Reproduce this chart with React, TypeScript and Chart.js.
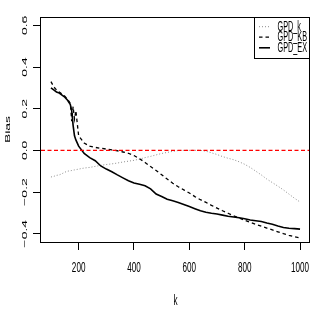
import React, { useEffect, useRef } from "react";
import { Chart, registerables } from "chart.js";

Chart.register(...registerables);

const kValues = [
  100, 110, 120, 130, 140, 150, 160, 170, 175, 180, 185, 190,
  200, 220, 240, 260, 280, 300, 320, 340, 360, 380, 400, 420, 440, 460, 480,
  500, 520, 540, 560, 580, 600, 620, 640, 660, 680, 700, 720, 740, 760, 780,
  800, 820, 840, 860, 880, 900, 920, 940, 960, 980, 1000,
];

const gpdK = [
  -0.128, -0.125, -0.12, -0.118, -0.112, -0.105, -0.1, -0.098, -0.097, -0.095, -0.094, -0.093,
  -0.09, -0.085, -0.082, -0.077, -0.072, -0.068, -0.065, -0.061, -0.056, -0.052, -0.048, -0.042, -0.035, -0.029, -0.022,
  -0.015, -0.01, -0.005, -0.001, 0.0, 0.0, 0.0, 0.0, -0.004, -0.012, -0.02, -0.03, -0.038, -0.045, -0.055,
  -0.067, -0.082, -0.1, -0.118, -0.138, -0.155, -0.172, -0.19, -0.21, -0.23, -0.248,
];

const gpdKB = [
  0.33, 0.305, 0.29, 0.28, 0.27, 0.26, 0.245, 0.225, 0.14, 0.21, 0.15, 0.19,
  0.07, 0.035, 0.02, 0.014, 0.01, 0.006, 0.002, -0.002, -0.008, -0.014, -0.025, -0.04, -0.058, -0.078, -0.097,
  -0.117, -0.138, -0.158, -0.175, -0.19, -0.205, -0.222, -0.237, -0.25, -0.264, -0.277, -0.29, -0.302, -0.314, -0.325,
  -0.336, -0.346, -0.355, -0.364, -0.373, -0.382, -0.391, -0.4, -0.408, -0.415, -0.42,
];

const gpdEX = [
  0.3, 0.29, 0.28, 0.275, 0.265, 0.255, 0.24, 0.22, 0.19, 0.12, 0.07, 0.05,
  0.02, -0.015, -0.035, -0.05, -0.075, -0.09, -0.103, -0.118, -0.132, -0.146, -0.157, -0.163, -0.17, -0.185, -0.21,
  -0.222, -0.235, -0.242, -0.25, -0.26, -0.27, -0.28, -0.29, -0.297, -0.302, -0.306, -0.311, -0.316, -0.32, -0.324,
  -0.328, -0.334, -0.338, -0.342, -0.349, -0.355, -0.363, -0.37, -0.374, -0.376, -0.378,
];

const xTicks = [200, 400, 600, 800, 1000];
const yTicks = [-0.4, -0.2, 0.0, 0.2, 0.4, 0.6];
const yTickLabels = ["\u22120.4", "\u22120.2", "0.0", "0.2", "0.4", "0.6"];
const legendLabels = ["GPD_k", "GPD_KB", "GPD_EX"];
const xTitle = "k";
const yTitle = "Bias";

const FONT = "14px 'Liberation Sans', Arial, Helvetica, sans-serif";
const SX = 0.58;

function drawText(ctx: CanvasRenderingContext2D, text: string, x: number, y: number, rot: number, align: CanvasTextAlign, sx: number = SX) {
  ctx.save();
  ctx.translate(x, y);
  ctx.scale(sx, 1);
  ctx.rotate(rot);
  ctx.font = FONT;
  ctx.fillStyle = "#000";
  ctx.textAlign = align;
  ctx.textBaseline = "middle";
  ctx.fillText(text, 0, 0);
  ctx.restore();
}

const rPlugin = {
  id: "rstyle",
  afterDatasetsDraw(chart: any) {
    const { ctx, chartArea: a, scales } = chart;
    const xs = scales.x;
    const ys = scales.y;
    // abline h = 0
    ctx.save();
    ctx.beginPath();
    ctx.rect(a.left, a.top, a.right - a.left, a.bottom - a.top);
    ctx.clip();
    ctx.strokeStyle = "#ff0000";
    ctx.lineWidth = 1.4;
    ctx.setLineDash([4, 2.5]);
    const py = ys.getPixelForValue(0);
    ctx.beginPath();
    ctx.moveTo(a.left, py);
    ctx.lineTo(a.right, py);
    ctx.stroke();
    ctx.restore();

    // frame
    ctx.save();
    ctx.strokeStyle = "#000";
    ctx.lineWidth = 1;
    ctx.strokeRect(Math.round(a.left) - 0.5, Math.round(a.top) + 0.5, Math.round(a.right - a.left), Math.round(a.bottom - a.top));
    ctx.restore();

    // tick labels
    xTicks.forEach((v) => {
      drawText(ctx, String(v), xs.getPixelForValue(v), 268.5, 0, "center");
    });
    yTicks.forEach((v, i) => {
      drawText(ctx, yTickLabels[i], 25, ys.getPixelForValue(v), -Math.PI / 2, "center");
    });
    // titles
    drawText(ctx, xTitle, (a.left + a.right) / 2, 301.5, 0, "center");
    drawText(ctx, yTitle, 7.5, (a.top + a.bottom) / 2, -Math.PI / 2, "center");

    // legend
    const lx0 = 254.5;
    const lx1 = Math.round(a.right) - 0.5;
    const ly0 = Math.round(a.top) + 0.5;
    const ly1 = 58.5;
    ctx.save();
    ctx.fillStyle = "#fff";
    ctx.fillRect(lx0, ly0, lx1 - lx0, ly1 - ly0);
    ctx.strokeStyle = "#000";
    ctx.lineWidth = 1;
    ctx.strokeRect(lx0, ly0, lx1 - lx0, ly1 - ly0);
    ctx.restore();
    const rows = [26.7, 37.2, 47.8];
    chart.data.datasets.forEach((ds: any, i: number) => {
      ctx.save();
      ctx.strokeStyle = ds.borderColor;
      ctx.lineWidth = ds.borderWidth;
      ctx.setLineDash(ds.borderDash || []);
      ctx.beginPath();
      ctx.moveTo(259, rows[i]);
      ctx.lineTo(270, rows[i]);
      ctx.stroke();
      ctx.restore();
      drawText(ctx, legendLabels[i], 277.5, rows[i], 0, "left", 0.52);
    });
  },
};

export default function App() {
  const ref = useRef<HTMLCanvasElement | null>(null);
  useEffect(() => {
    if (!ref.current) return;
    const mk = (arr: number[]) => kValues.map((k, i) => ({ x: k, y: arr[i] }));
    const chart = new Chart(ref.current, {
      type: "line",
      data: {
        datasets: [
          {
            label: legendLabels[0],
            data: mk(gpdK),
            borderColor: "#8c8c8c",
            borderWidth: 1,
            borderDash: [1, 2],
            pointRadius: 0,
            tension: 0,
            order: 3,
          },
          {
            label: legendLabels[1],
            data: mk(gpdKB),
            borderColor: "#000",
            borderWidth: 1.3,
            borderDash: [3.5, 3],
            pointRadius: 0,
            tension: 0,
            order: 2,
          },
          {
            label: legendLabels[2],
            data: mk(gpdEX),
            borderColor: "#000",
            borderWidth: 1.6,
            pointRadius: 0,
            tension: 0,
            order: 1,
          },
        ],
      },
      options: {
        animation: false,
        responsive: false,
        maintainAspectRatio: false,
        layout: { padding: { left: 0, right: 10, top: 17, bottom: 0 } },
        plugins: { legend: { display: false }, tooltip: { enabled: false } },
        scales: {
          x: {
            type: "linear",
            min: 64,
            max: 1036,
            afterBuildTicks: (s: any) => {
              s.ticks = xTicks.map((v) => ({ value: v }));
            },
            afterFit: (s: any) => {
              s.height = 85;
            },
            ticks: { display: false },
            grid: { display: true, drawOnChartArea: false, drawTicks: true, tickLength: 8, color: "#000", lineWidth: 1 },
            border: { display: false },
          },
          y: {
            type: "linear",
            min: -0.44,
            max: 0.64,
            afterBuildTicks: (s: any) => {
              s.ticks = yTicks.map((v) => ({ value: v }));
            },
            afterFit: (s: any) => {
              s.width = 41;
            },
            ticks: { display: false },
            grid: { display: true, drawOnChartArea: false, drawTicks: true, tickLength: 8, color: "#000", lineWidth: 1 },
            border: { display: false },
          },
        },
      },
      plugins: [rPlugin],
    } as any);
    return () => chart.destroy();
  }, []);
  return (
    <div style={{ position: "fixed", left: 0, top: 0, width: 320, height: 327, background: "#fff" }}>
      <canvas ref={ref} width={320} height={327} style={{ width: 320, height: 327, display: "block" }} />
    </div>
  );
}
